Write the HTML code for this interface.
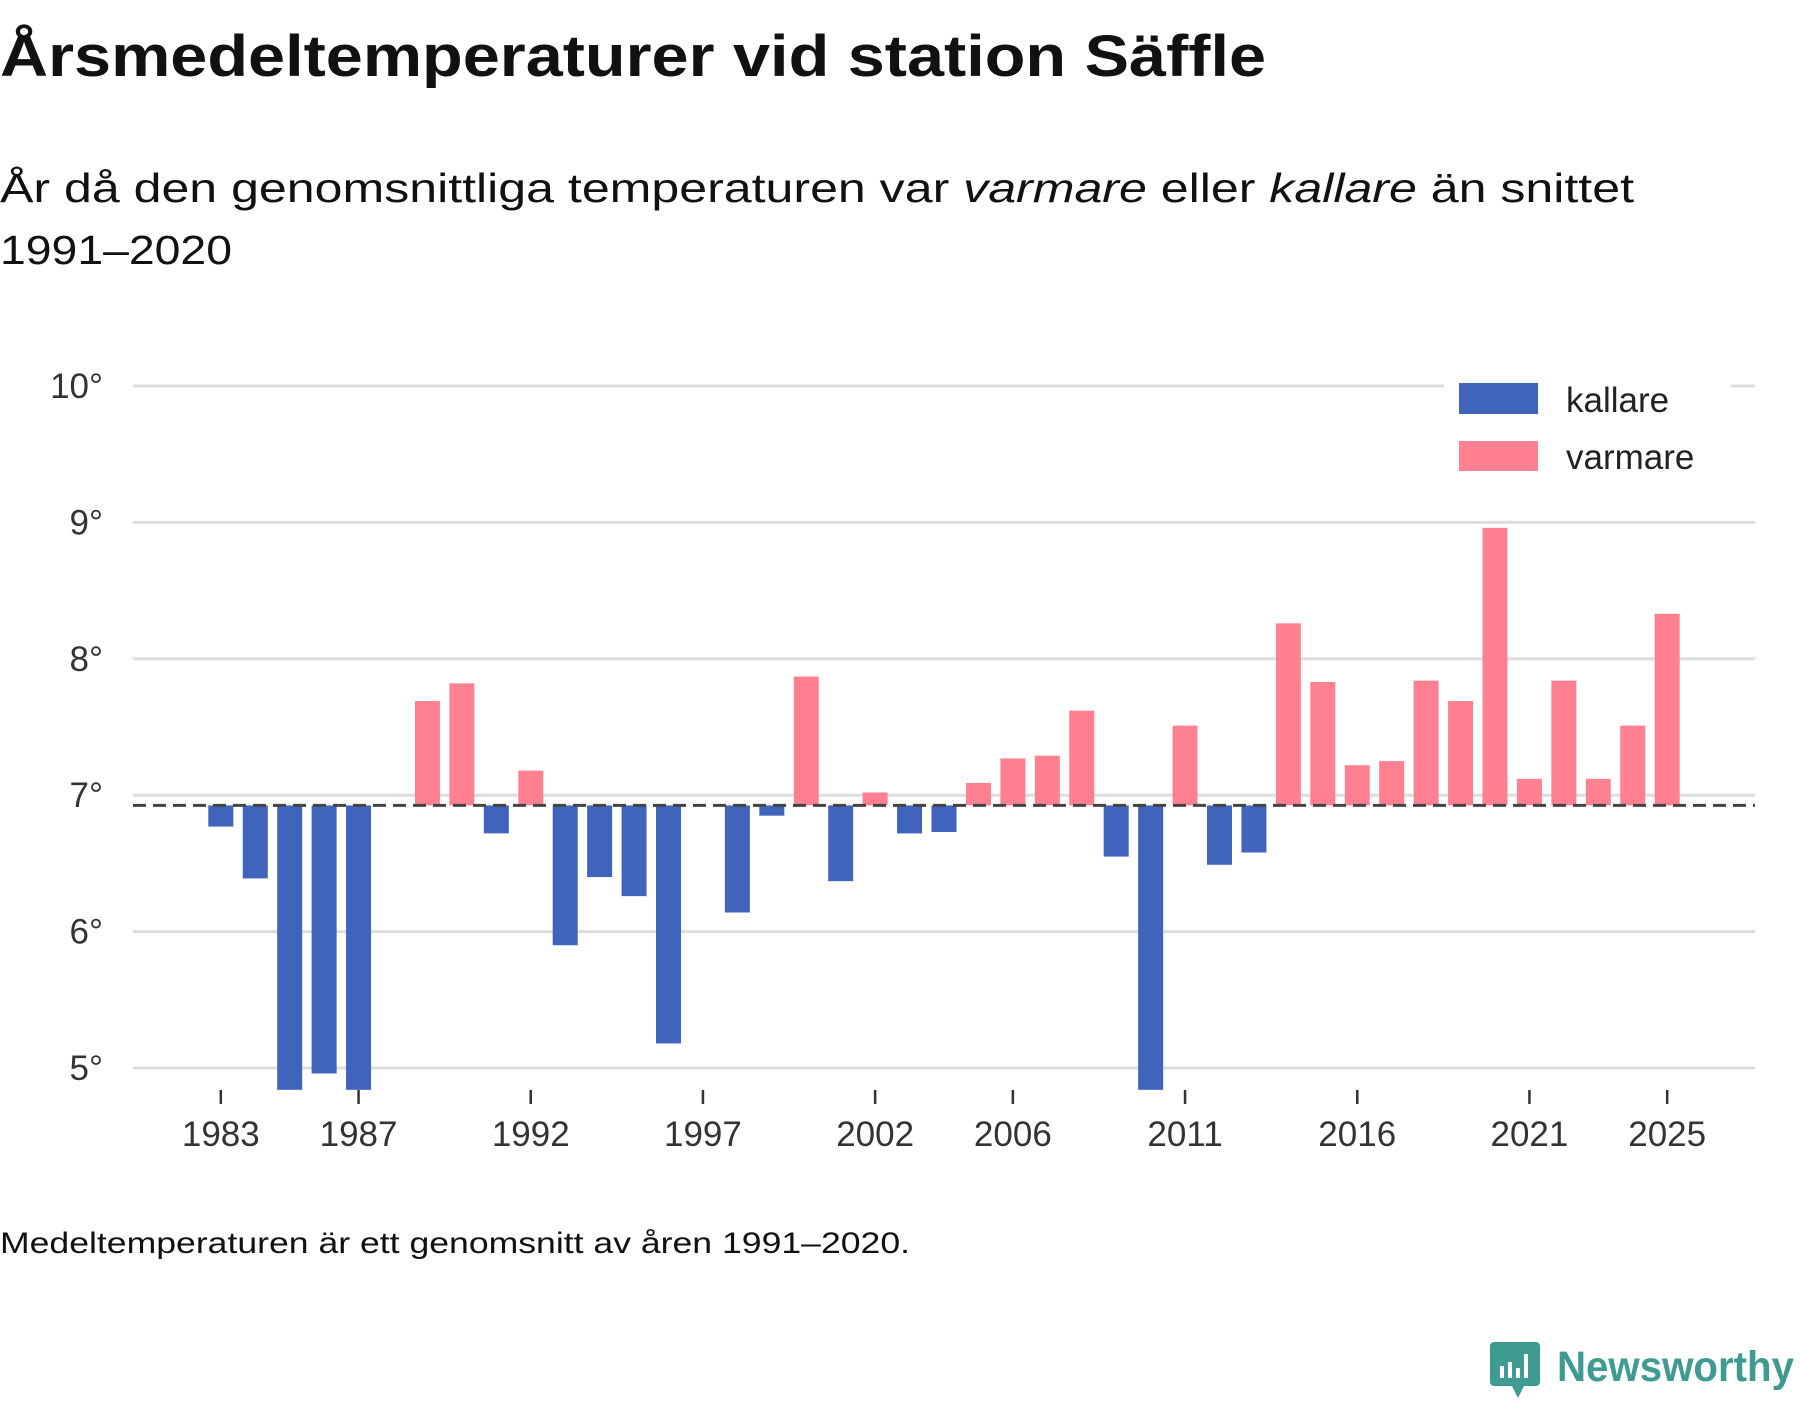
<!DOCTYPE html>
<html><head><meta charset="utf-8">
<style>
html,body{margin:0;padding:0;background:#fff;}
body{width:1800px;height:1400px;overflow:hidden;font-family:"Liberation Sans",sans-serif;}
svg text{font-family:"Liberation Sans",sans-serif;}
</style></head>
<body>
<svg id="chart" width="1800" height="1400" viewBox="0 0 1800 1400" xmlns="http://www.w3.org/2000/svg">
  <text x="0" y="76" font-size="58" font-weight="bold" fill="#111" textLength="1266" lengthAdjust="spacingAndGlyphs">Årsmedeltemperaturer vid station Säffle</text>
  <text x="0" y="202" font-size="41" fill="#111" textLength="1634" lengthAdjust="spacingAndGlyphs">År då den genomsnittliga temperaturen var <tspan font-style="italic">varmare</tspan> eller <tspan font-style="italic">kallare</tspan> än snittet</text>
  <text x="0" y="264" font-size="41" fill="#111" textLength="232" lengthAdjust="spacingAndGlyphs">1991–2020</text>
  <g id="grid"></g>
  <g id="yaxis"></g>
  <g id="bars"></g>
  <g id="xaxis"></g>
  <line id="avg" stroke="#444" stroke-width="3" stroke-dasharray="13,7"></line>
  <g>
    <rect x="1444" y="378" width="287" height="100" fill="#fff"></rect>
    <rect x="1459" y="383" width="79" height="31" fill="#4063bb"></rect>
    <text x="1566" y="412" font-size="35" fill="#222">kallare</text>
    <rect x="1459" y="441" width="79" height="30" fill="#ff8091"></rect>
    <text x="1566" y="469" font-size="35" fill="#222">varmare</text>
  </g>
  <text x="0" y="1253" font-size="30" fill="#111" textLength="910" lengthAdjust="spacingAndGlyphs">Medeltemperaturen är ett genomsnitt av åren 1991–2020.</text>
  <g>
    <path d="M1494 1342 h42 a4 4 0 0 1 4 4 v36 a4 4 0 0 1 -4 4 h-12 l-6 12 l-6 -12 h-18 a4 4 0 0 1 -4 -4 v-36 a4 4 0 0 1 4 -4z" fill="#3f9b92"></path>
    <rect x="1500" y="1366" width="4" height="12" fill="#fff"></rect>
    <rect x="1508" y="1362" width="4" height="16" fill="#fff"></rect>
    <rect x="1516" y="1368" width="4" height="10" fill="#fff"></rect>
    <rect x="1524" y="1354" width="4" height="24" fill="#fff"></rect>
    <text x="1557" y="1381" font-size="43" font-weight="bold" fill="#3f9b92" textLength="237" lengthAdjust="spacingAndGlyphs">Newsworthy</text>
  </g>
</svg>
<script>
const years = [1983,1984,1985,1986,1987,1989,1990,1991,1992,1993,1994,1995,1996,1998,1999,2000,2001,2002,2003,2004,2005,2006,2007,2008,2009,2010,2011,2012,2013,2014,2015,2016,2017,2018,2019,2020,2021,2022,2023,2024,2025];
const temps = [6.77,6.39,4.7,4.96,4.7,7.69,7.82,6.72,7.18,5.9,6.4,6.26,5.18,6.14,6.85,7.87,6.37,7.02,6.72,6.73,7.09,7.27,7.29,7.62,6.55,4.7,7.51,6.49,6.58,8.26,7.83,7.22,7.25,7.84,7.69,8.96,7.12,7.84,7.12,7.51,8.33];
const average = 6.925;
const yTicks = [5,6,7,8,9,10];
const xTicks = [1983,1987,1992,1997,2002,2006,2011,2016,2021,2025];

const NS = "http://www.w3.org/2000/svg";
const X0 = 133, X1 = 1755, D0 = 1980.45, D1 = 2027.55;
const Y10 = 386, PER = 136.4, YMIN = 4.84;
function xs(v){ return X0 + (v - D0) / (D1 - D0) * (X1 - X0); }
function ys(v){ return Y10 + (10 - v) * PER; }
function mk(tag, attrs){ const e = document.createElementNS(NS, tag); for (const k in attrs) e.setAttribute(k, attrs[k]); return e; }

const grid = document.getElementById('grid'), yaxis = document.getElementById('yaxis');
yTicks.forEach(t => {
  const l = mk('line', {x1: X0, x2: X1, y1: ys(t), y2: ys(t), stroke: '#dddddd', 'stroke-width': 3});
  
  
  grid.appendChild(l);
  const tx = mk('text', {x: 103, y: ys(t) + 12, 'font-size': 35, fill: '#333', 'text-anchor': 'end'});
  tx.textContent = t + '°';
  
  
  yaxis.appendChild(tx);
});

const bars = document.getElementById('bars');
const BW = 25;
years.forEach((yr, i) => {
  const v = Math.max(temps[i], YMIN);
  const a = ys(average), b = ys(v);
  const r = mk('rect', {x: xs(yr) - BW/2, y: Math.min(a, b), width: BW, height: Math.abs(b - a), fill: temps[i] >= average ? '#ff8091' : '#4063bb'});
  
  
  bars.appendChild(r);
});

const xaxis = document.getElementById('xaxis');
xTicks.forEach(t => {
  const l = mk('line', {x1: xs(t), x2: xs(t), y1: 1090, y2: 1104, stroke: '#333', 'stroke-width': 2.5});
  
  
  xaxis.appendChild(l);
  const tx = mk('text', {x: xs(t), y: 1146, 'font-size': 35, fill: '#333', 'text-anchor': 'middle'});
  tx.textContent = t;
  
  
  xaxis.appendChild(tx);
});

const avg = document.getElementById('avg');
avg.setAttribute('x1', X0); avg.setAttribute('x2', X1);
avg.setAttribute('y1', ys(average)); avg.setAttribute('y2', ys(average));
</script>
</body></html>
